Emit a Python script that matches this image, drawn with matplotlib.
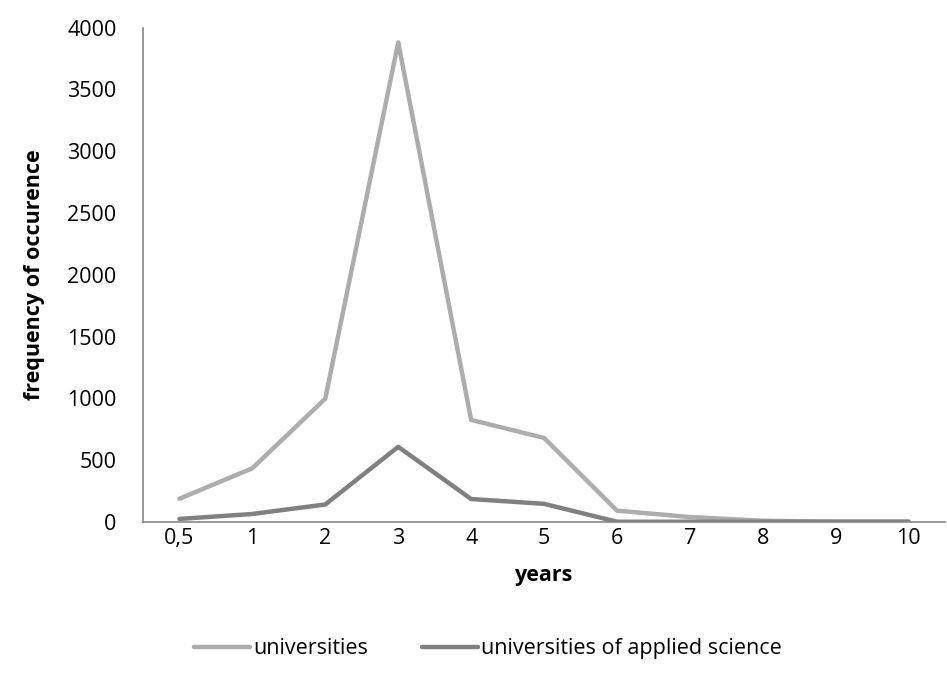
import matplotlib
matplotlib.use("Agg")
import matplotlib.pyplot as plt
import numpy as np

years = ["0,5", "1", "2", "3", "4", "5", "6", "7", "8", "9", "10"]
universities = [188, 435, 998, 3880, 826, 680, 92, 40, 10, 3, 3]
applied_science = [25, 65, 142, 608, 186, 147, 2, 2, 2, 2, 2]

plt.rcParams['font.family'] = ['Open Sans', 'DejaVu Sans']
fs = 15.5

fig = plt.figure(figsize=(9.47, 6.82), dpi=100)
ax = fig.add_axes([0.151, 0.2346, 0.847, 0.725])

x = np.arange(len(years))
ax.plot(x, universities, color="#ADADAD", lw=3.2, label="universities", solid_capstyle="round")
ax.plot(x, applied_science, color="#808080", lw=3.2, label="universities of applied science", solid_capstyle="round")

ax.set_xlim(-0.5, len(years) - 0.5)
ax.set_ylim(0, 4000)
ax.set_yticks(range(0, 4001, 500))
ax.set_xticks(x)
ax.set_xticklabels(years)
ax.tick_params(length=0, labelsize=fs, colors="black")
ax.tick_params(axis="x", pad=4)
ax.tick_params(axis="y", pad=19)

for s in ["top", "right"]:
    ax.spines[s].set_visible(False)
for s in ["left", "bottom"]:
    ax.spines[s].set_color("#888888")
    ax.spines[s].set_linewidth(1.2)

ax.set_xlabel("years", fontsize=fs, fontweight="bold", labelpad=12)
ax.set_ylabel("frequency of occurence", fontsize=fs, fontweight="bold", labelpad=16)

fig.legend(loc="lower center", bbox_to_anchor=(0.515, 0.005), ncol=2, frameon=False,
           fontsize=fs, handlelength=2.6, handletextpad=0.15, columnspacing=2.5)

fig.savefig("out.png", dpi=100)
